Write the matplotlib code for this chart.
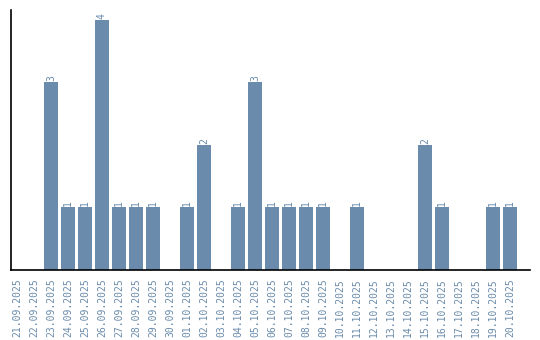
import matplotlib
matplotlib.use('Agg')
import matplotlib.pyplot as plt

dates = ['21.09.2025', '22.09.2025', '23.09.2025', '24.09.2025', '25.09.2025',
         '26.09.2025', '27.09.2025', '28.09.2025', '29.09.2025', '30.09.2025',
         '01.10.2025', '02.10.2025', '03.10.2025', '04.10.2025', '05.10.2025',
         '06.10.2025', '07.10.2025', '08.10.2025', '09.10.2025', '10.10.2025',
         '11.10.2025', '12.10.2025', '13.10.2025', '14.10.2025', '15.10.2025',
         '16.10.2025', '17.10.2025', '18.10.2025', '19.10.2025', '20.10.2025']
counts = [0, 0, 3, 1, 1, 4, 1, 1, 1, 0,
          1, 2, 0, 1, 3, 1, 1, 1, 1, 0,
          1, 0, 0, 0, 2, 1, 0, 0, 1, 1]

bar_color = '#6a8bab'
text_color = '#6a8bab'

fig = plt.figure(figsize=(5.4, 3.4), dpi=100)
ax = fig.add_axes([0.0204, 0.206, 0.961, 0.765])

x = range(len(dates))
bars = ax.bar(x, counts, width=0.82, color=bar_color)

# value labels above non-empty bars
for xi, v in zip(x, counts):
    if v > 0:
        ax.text(xi, v + 0.02, str(v), rotation=90, ha='center', va='bottom',
                fontsize=7, family='DejaVu Sans Mono', color=text_color)

ax.set_xlim(-0.35, 30.18)
ax.set_ylim(0, 4.16)
ax.set_xticks(list(x))
ax.set_xticklabels(dates, rotation=90, fontsize=7, family='DejaVu Sans Mono',
                   color=text_color)
ax.tick_params(axis='x', length=0, pad=6)
ax.set_yticks([])
ax.spines['top'].set_visible(False)
ax.spines['right'].set_visible(False)
ax.spines['left'].set_linewidth(1.2)
ax.spines['bottom'].set_linewidth(1.2)

fig.savefig('out.png', dpi=100)
